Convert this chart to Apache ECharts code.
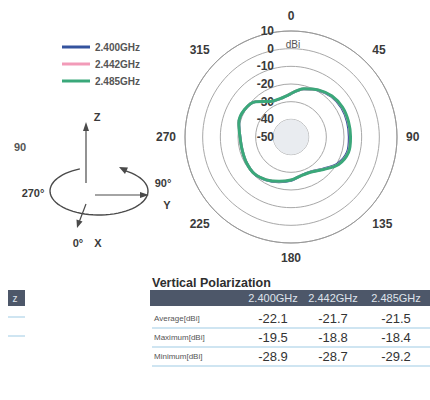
<!DOCTYPE html>
<html>
<head>
<meta charset="utf-8">
<script src="https://cdn.jsdelivr.net/npm/echarts@6/dist/echarts.min.js"></script>
<style>
html,body{margin:0;padding:0;background:#fff;}
#c{width:430px;height:400px;}
</style>
</head>
<body>
<div id="c"></div>
<script>
// ---- data ----
const seriesNames = ['2.400GHz', '2.442GHz', '2.485GHz'];
const angles = [0, 15, 30, 45, 60, 75, 90, 105, 120, 135, 150, 165, 180, 195, 210, 225, 240, 255, 270, 285, 300, 315, 330, 345];
const gain2400 = [-25.5, -21.9, -19.4, -17.6, -16.9, -17.0, -17.1, -17.0, -19.6, -24.4, -27.3, -27.5, -25.4, -23.7, -21.9, -20.6, -20.9, -21.4, -21.2, -19.5, -19.5, -21.8, -26.9, -27.5];
const gain2442 = [-25.3, -21.8, -19.3, -17.3, -16.5, -16.5, -16.5, -16.5, -19.1, -24.1, -27.2, -27.4, -25.6, -23.9, -22.0, -20.6, -20.9, -21.4, -21.1, -19.4, -19.5, -21.7, -26.8, -27.4];
const gain2485 = [-25.4, -21.7, -19.2, -17.2, -16.3, -16.3, -16.3, -16.3, -18.9, -24.0, -27.1, -27.4, -25.7, -24.0, -22.0, -20.6, -20.9, -21.4, -21.1, -19.4, -19.4, -21.7, -26.8, -27.4];
const angleTicks = [0, 45, 90, 135, 180, 225, 270, 315];
const radiusTicks = [-50, -40, -30, -20, -10, 0, 10];

const tableTitle = 'Vertical Polarization';
const tableCols = ['2.400GHz', '2.442GHz', '2.485GHz'];
const rowLabels = ['Average[dBi]', 'Maximum[dBi]', 'Minimum[dBi]'];
const avgVals = [-22.1, -21.7, -21.5];
const maxVals = [-19.5, -18.8, -18.4];
const minVals = [-28.9, -28.7, -29.2];
const tableRows = [avgVals, maxVals, minVals];

// ---- build ----
function toPolar(vals) {
  const d = vals.map((v, i) => [v, angles[i]]);
  d.push([vals[0], 360]);
  return d;
}
const colors = ['#34539e', '#f29bb8', '#3aa87a'];
const widths = [2.6, 2.6, 3];
const allVals = [gain2400, gain2442, gain2485];

const FONT = 'Liberation Sans, Arial, sans-serif';
const g = [];
function txt(x, y, t, opt) {
  opt = opt || {};
  g.push({
    type: 'text', x: x, y: y, silent: true,
    style: {
      text: t, fill: opt.fill || '#3a3a3a',
      fontSize: opt.size || 11, fontWeight: opt.weight || 'bold', fontFamily: FONT,
      align: opt.align || 'center', verticalAlign: 'middle'
    }
  });
}
function ln(x1, y1, x2, y2, color, w) {
  g.push({ type: 'line', silent: true, shape: { x1, y1, x2, y2 }, style: { stroke: color, lineWidth: w } });
}
function poly(pts, color) {
  g.push({ type: 'polygon', silent: true, shape: { points: pts }, style: { fill: color } });
}
// axis diagram
const dc = '#4a4a4a';
ln(86, 183, 86, 129, dc, 1.2); poly([[86, 122], [83, 131], [89, 131]], dc);
ln(95, 195, 142, 195, dc, 1.2); poly([[149, 195], [140, 192], [140, 198]], dc);
ln(86, 204, 79.5, 221, dc, 1.2); poly([[77, 228], [82.5, 221.5], [76.5, 219.5]], dc);
// rotation ellipse (decorative), from top-left round the left, bottom, right to top-right
const ell = [];
for (let t = 113; t <= 418; t += 5) {
  const a = t * Math.PI / 180;
  ell.push([99 + 49 * Math.cos(a), 191 - 24 * Math.sin(a)]);
}
g.push({ type: 'polyline', silent: true, shape: { points: ell }, style: { stroke: dc, lineWidth: 1.4, fill: null } });
poly([[119, 167], [128, 167.5], [125, 174]], dc);
txt(97, 117, 'Z'); txt(33, 193, '270°'); txt(163, 183, '90°'); txt(167, 205, 'Y');
txt(78, 243, '0°'); txt(98, 243, 'X'); txt(20, 147, '90', { fill: '#555' });
txt(293, 44, 'dBi', { size: 10, weight: 'normal', fill: '#555' });

// table
const tc = '#4d5769', lineC = '#9fcbe4';
txt(152, 283, tableTitle, { align: 'left', size: 12.5, fill: '#2e2e2e' });
g.push({ type: 'rect', silent: true, shape: { x: 150, y: 290, width: 280, height: 16 }, style: { fill: tc } });
const colX = [273, 333, 396];
const rowY = [318, 337, 356];
tableCols.forEach((c, i) => txt(colX[i], 298, c, { size: 11, weight: 'normal', fill: '#dfe4ec' }));
rowLabels.forEach((r, j) => {
  txt(154, rowY[j], r, { align: 'left', size: 8, weight: 'normal', fill: '#555' });
  tableRows[j].forEach((v, i) => txt(colX[i], rowY[j], v.toFixed(1), { size: 13, weight: 'normal', fill: '#333' }));
  ln(152, rowY[j] + 10, 430, rowY[j] + 10, lineC, 1);
});
// partial table on the left
g.push({ type: 'rect', silent: true, shape: { x: 8, y: 290, width: 17, height: 16 }, style: { fill: tc } });
txt(15, 298, 'z', { size: 10, weight: 'normal', fill: '#dfe4ec' });
ln(8, 317, 25, 317, lineC, 1); ln(8, 336, 25, 336, lineC, 1);

const chart = echarts.init(document.getElementById('c'), null, { renderer: 'svg' });
chart.setOption({
  animation: false,
  backgroundColor: '#fff',
  legend: {
    data: seriesNames, orient: 'vertical', left: 57, top: 37, icon: 'rect',
    itemWidth: 28, itemHeight: 3, itemGap: 7,
    textStyle: { fontSize: 10, fontWeight: 'bold', color: '#555', fontFamily: FONT }
  },
  polar: { center: [291, 137], radius: 106 },
  angleAxis: {
    type: 'value', min: 0, max: 360, interval: 45, startAngle: 90, clockwise: true,
    axisLine: { show: true, lineStyle: { color: '#9a9a9a', width: 1 } },
    axisTick: { show: false },
    splitLine: { show: false },
    axisLabel: {
      margin: 9, color: '#3a3a3a', fontSize: 12, fontWeight: 'bold', fontFamily: FONT,
      formatter: v => (angleTicks.indexOf(v) >= 0 ? String(v) : '')
    }
  },
  radiusAxis: {
    type: 'value', min: -50, max: 10, interval: 10,
    axisLine: { show: false }, axisTick: { show: false },
    axisLabel: { color: '#3a3a3a', fontSize: 12, fontWeight: 'bold', fontFamily: FONT, inside: true, margin: 17, align: 'right',
      formatter: v => (radiusTicks.indexOf(v) >= 0 ? String(v) : '') },
    splitLine: { show: true, lineStyle: { color: '#a8a8a8', width: 1 } },
    splitArea: { show: true, areaStyle: { color: ['#e9ecf0', 'rgba(0,0,0,0)', 'rgba(0,0,0,0)', 'rgba(0,0,0,0)', 'rgba(0,0,0,0)', 'rgba(0,0,0,0)'] } }
  },
  graphic: g,
  series: seriesNames.map((n, i) => ({
    name: n, type: 'line', coordinateSystem: 'polar', showSymbol: false, smooth: 0.3,
    data: toPolar(allVals[i]),
    lineStyle: { color: colors[i], width: widths[i] }, itemStyle: { color: colors[i] }, z: 3 + i
  }))
});
</script>
</body>
</html>
